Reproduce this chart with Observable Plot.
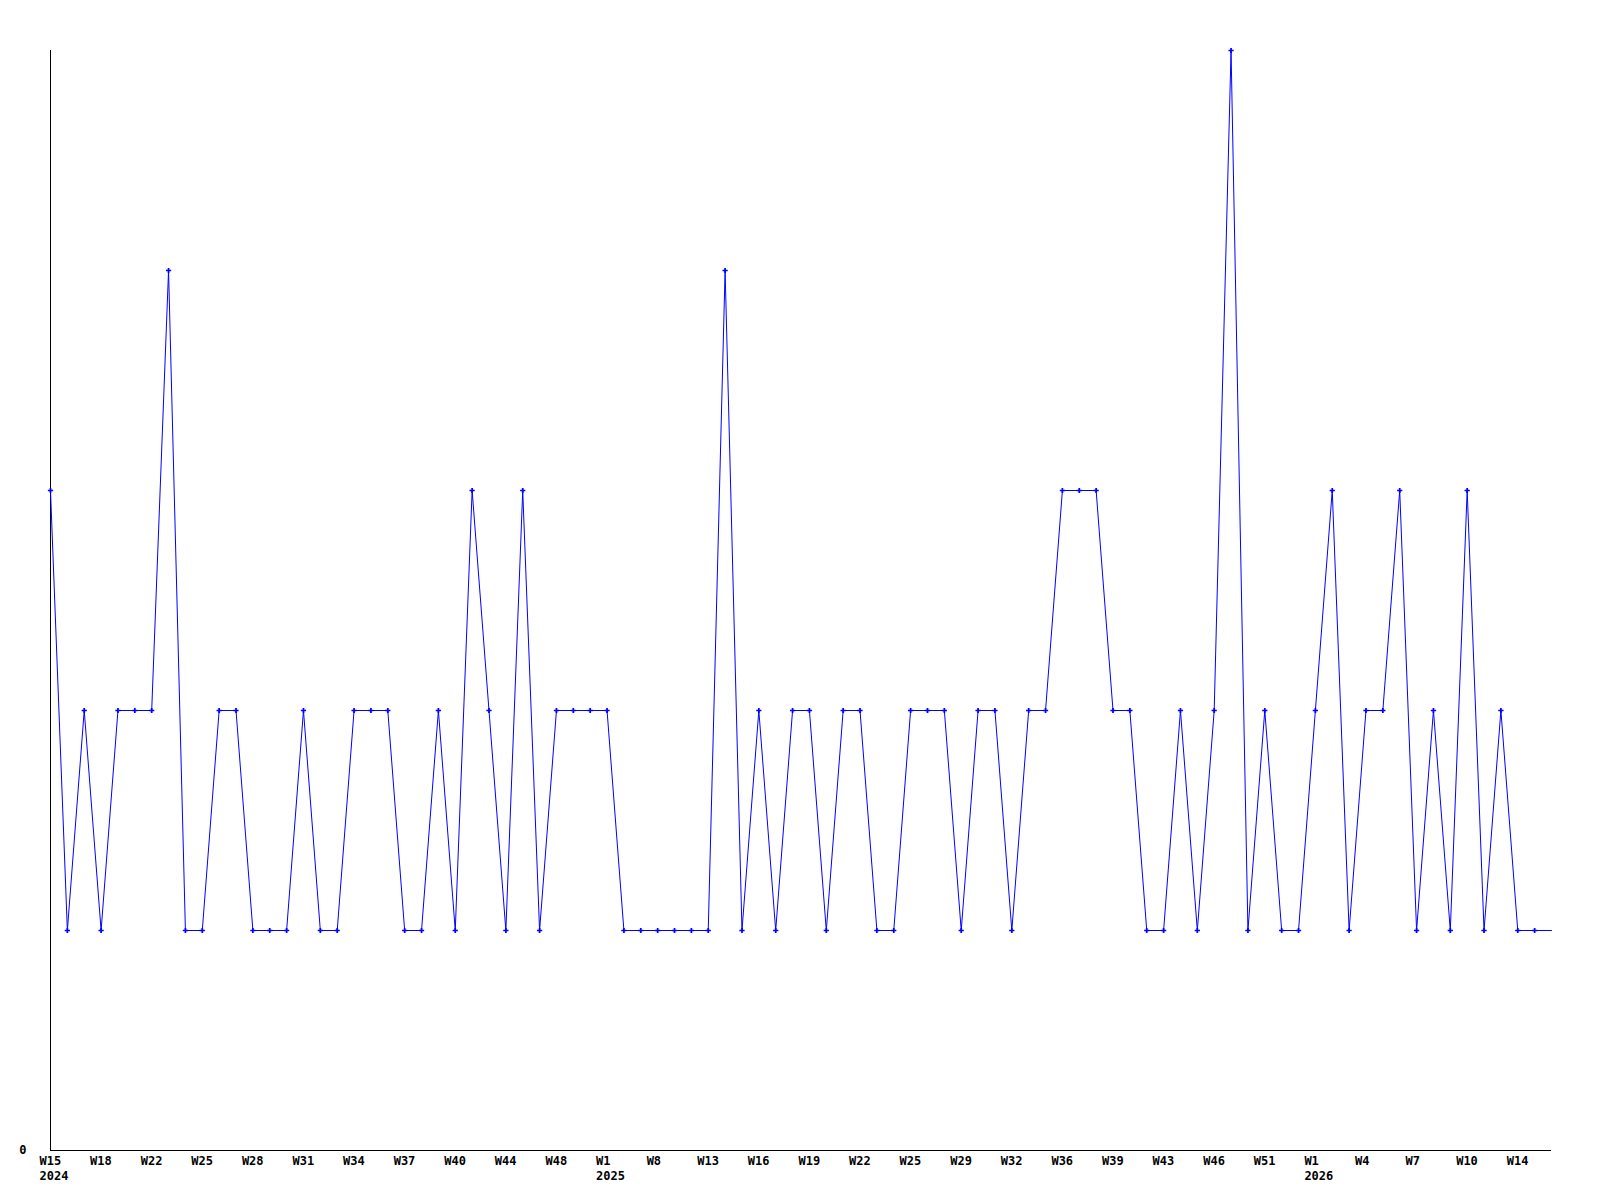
<!DOCTYPE html>
<html>
<head>
<meta charset="utf-8">
<script src="https://cdn.jsdelivr.net/npm/d3@7"></script>
<script src="https://cdn.jsdelivr.net/npm/@observablehq/plot@0.6"></script>
<style>
  html, body { margin: 0; padding: 0; background: #ffffff; }
  #chart { width: 1600px; height: 1200px; }
</style>
</head>
<body>
<div id="chart"></div>
<script>
// Series values, one per sampled week (index 0 = W15 2024)
const values = [
  3, 1, 2, 1, 2, 2, 2, 4, 1, 1,
  2, 2, 1, 1, 1, 2, 1, 1, 2, 2,
  2, 1, 1, 2, 1, 3, 2, 1, 3, 1,
  2, 2, 2, 2, 1, 1, 1, 1, 1, 1,
  4, 1, 2, 1, 2, 2, 1, 2, 2, 1,
  1, 2, 2, 2, 1, 2, 2, 1, 2, 2,
  3, 3, 3, 2, 2, 1, 1, 2, 1, 2,
  5, 1, 2, 1, 1, 2, 3, 1, 2, 2,
  3, 1, 2, 1, 3, 1, 2, 1, 1, 1
];

// Tick labels, one every third sample
const weekLabels = [
  "W15", "W18", "W22", "W25", "W28", "W31", "W34", "W37", "W40", "W44",
  "W48", "W1", "W8", "W13", "W16", "W19", "W22", "W25", "W29", "W32",
  "W36", "W39", "W43", "W46", "W51", "W1", "W4", "W7", "W10", "W14"
];
const tickStep = 3;

// Year labels and the sample each one sits under
const yearLabels = ["2024", "2025", "2026"];
const yearSamples = [0, 33, 75];

const data = values.map((v, i) => ({i, v}));
const tickIdx = weekLabels.map((_, k) => k * tickStep);
const lastIdx = values.length - 1;

const chart = Plot.plot({
  width: 1600,
  height: 1200,
  marginLeft: 50,
  marginRight: 49,
  marginTop: 50,
  marginBottom: 50,
  style: {
    fontFamily: "'DejaVu Sans Mono', 'Liberation Mono', monospace",
    fontSize: "12px",
    fontWeight: "bold",
    color: "#000000",
    background: "#ffffff"
  },
  x: {type: "linear", domain: [0, lastIdx], axis: null},
  y: {domain: [0, 5], axis: null},
  marks: [
    Plot.axisX({
      ticks: tickIdx,
      tickFormat: (d) => weekLabels[Math.round(d / tickStep)],
      tickSize: 0,
      tickPadding: 6,
      textAnchor: "start",
      dx: -11,
      label: null,
      fill: "#000000"
    }),
    Plot.axisX({
      ticks: yearSamples,
      tickFormat: (d) => yearLabels[yearSamples.indexOf(d)],
      tickSize: 0,
      tickPadding: 21,
      textAnchor: "start",
      dx: -11,
      label: null,
      fill: "#000000"
    }),
    Plot.axisY({
      ticks: [0],
      tickFormat: (d) => String(d),
      tickSize: 0,
      tickPadding: 24,
      label: null,
      fill: "#000000"
    }),
    Plot.ruleY([0], {stroke: "#000000", strokeWidth: 1}),
    Plot.ruleX([0], {stroke: "#000000", strokeWidth: 1}),
    Plot.line(data, {x: "i", y: "v", stroke: "#0000ff", strokeWidth: 1}),
    Plot.dot(data.filter((d) => d.i < lastIdx), {
      x: "i", y: "v", symbol: "cross", r: 2.2, fill: "#0000ff", stroke: "none"
    })
  ]
});

document.getElementById("chart").appendChild(chart);
</script>
</body>
</html>
